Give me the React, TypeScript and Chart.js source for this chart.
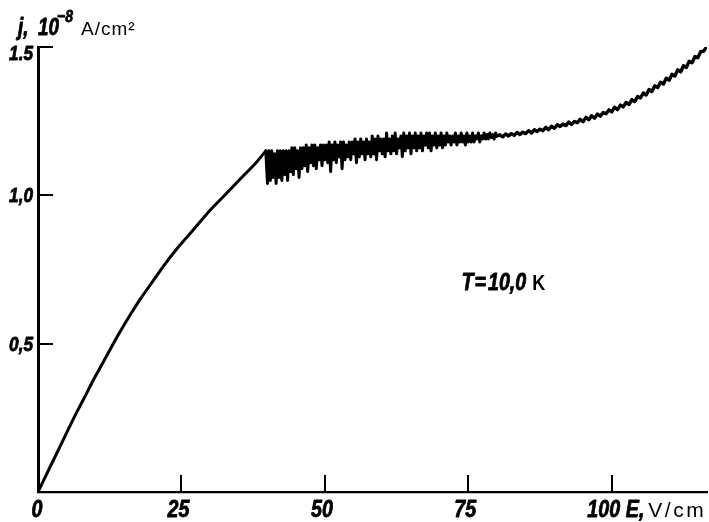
import React, { useEffect, useRef } from "react";
import { Chart, registerables } from "chart.js";

Chart.register(...registerables);

// ---------- data (E in V/cm, j in 1e-8 A/cm^2) ----------
const smoothE = [0, 2, 4, 6, 8, 10, 12, 14, 16, 18, 20, 22, 24, 26, 28, 30, 32, 34, 36, 38, 39.7];
const smoothJ = [0, 0.08, 0.16, 0.24, 0.315, 0.39, 0.46, 0.53, 0.595, 0.655, 0.71, 0.765, 0.815, 0.86, 0.905, 0.95, 0.99, 1.03, 1.07, 1.11, 1.15];

const noiseE = [
  40, 40.25, 40.5, 40.75, 41, 41.25, 41.5, 41.75,
  42, 42.25, 42.5, 42.75, 43, 43.25, 43.5, 43.75,
  44, 44.25, 44.5, 44.75, 45, 45.25, 45.5, 45.75,
  46, 46.25, 46.5, 46.75, 47, 47.25, 47.5, 47.75,
  48, 48.25, 48.5, 48.75, 49, 49.25, 49.5, 49.75,
  50, 50.25, 50.5, 50.75, 51, 51.25, 51.5, 51.75,
  52, 52.25, 52.5, 52.75, 53, 53.25, 53.5, 53.75,
  54, 54.25, 54.5, 54.75, 55, 55.25, 55.5, 55.75,
  56, 56.25, 56.5, 56.75, 57, 57.25, 57.5, 57.75,
  58, 58.25, 58.5, 58.75, 59, 59.25, 59.5, 59.75,
  60, 60.25, 60.5, 60.75, 61, 61.25, 61.5, 61.75,
  62, 62.25, 62.5, 62.75, 63, 63.25, 63.5, 63.75,
  64, 64.25, 64.5, 64.75, 65, 65.25, 65.5, 65.75,
  66, 66.25, 66.5, 66.75, 67, 67.25, 67.5, 67.75,
  68, 68.25, 68.5, 68.75, 69, 69.25, 69.5, 69.75,
  70, 70.25, 70.5, 70.75, 71, 71.25, 71.5, 71.75,
  72, 72.25, 72.5, 72.75, 73, 73.25, 73.5, 73.75,
  74, 74.25, 74.5, 74.75, 75, 75.25, 75.5, 75.75,
  76, 76.25, 76.5, 76.75, 77, 77.25, 77.5, 77.75,
  78, 78.25, 78.5, 78.75, 79, 79.25, 79.5, 79.75,
  80,
];
const noiseJ = [
  1.04, 1.15, 1.05, 1.15, 1.06, 1.14, 1.04, 1.15,
  1.06, 1.15, 1.05, 1.15, 1.07, 1.15, 1.05, 1.15,
  1.08, 1.16, 1.07, 1.16, 1.09, 1.15, 1.06, 1.16,
  1.09, 1.16, 1.10, 1.17, 1.08, 1.16, 1.11, 1.17,
  1.10, 1.17, 1.09, 1.16, 1.12, 1.17, 1.10, 1.17,
  1.12, 1.17, 1.11, 1.18, 1.08, 1.17, 1.12, 1.18,
  1.11, 1.17, 1.13, 1.18, 1.09, 1.18, 1.12, 1.17,
  1.13, 1.18, 1.12, 1.18, 1.14, 1.19, 1.11, 1.18,
  1.13, 1.19, 1.14, 1.18, 1.12, 1.19, 1.14, 1.18,
  1.13, 1.20, 1.14, 1.19, 1.12, 1.20, 1.15, 1.19,
  1.14, 1.19, 1.13, 1.21, 1.15, 1.19, 1.14, 1.20,
  1.15, 1.21, 1.14, 1.19, 1.16, 1.20, 1.13, 1.21,
  1.15, 1.20, 1.16, 1.21, 1.14, 1.20, 1.16, 1.21,
  1.15, 1.20, 1.16, 1.21, 1.15, 1.20, 1.17, 1.21,
  1.16, 1.21, 1.15, 1.20, 1.17, 1.21, 1.16, 1.20,
  1.17, 1.21, 1.16, 1.20, 1.17, 1.21, 1.18, 1.20,
  1.17, 1.20, 1.18, 1.21, 1.17, 1.20, 1.18, 1.21,
  1.18, 1.20, 1.17, 1.21, 1.18, 1.20, 1.18, 1.21,
  1.18, 1.20, 1.19, 1.21, 1.18, 1.20, 1.19, 1.21,
  1.19, 1.205, 1.19, 1.21, 1.195, 1.205, 1.19, 1.21,
  1.20,
];

const tailE = [
  80.5, 81, 81.5, 82, 82.5, 83, 83.5, 84, 84.5, 85,
  85.5, 86, 86.5, 87, 87.5, 88, 88.5, 89, 89.5, 90,
  90.5, 91, 91.5, 92, 92.5, 93, 93.5, 94, 94.5, 95,
  95.5, 96, 96.5, 97, 97.5, 98, 98.5, 99, 99.5, 100,
  100.5, 101, 101.5, 102, 102.5, 103, 103.5, 104, 104.5, 105,
  105.5, 106, 106.5, 107, 107.5, 108, 108.5, 109, 109.5, 110,
  110.5, 111, 111.5, 112, 112.5, 113, 113.5, 114, 114.5, 115,
  115.5, 116, 116.5,
];
const tailJ = [
  1.204, 1.197, 1.207, 1.200, 1.208, 1.202, 1.212, 1.205, 1.213, 1.208,
  1.218, 1.210, 1.221, 1.215, 1.223, 1.218, 1.229, 1.221, 1.233, 1.226,
  1.238, 1.232, 1.240, 1.235, 1.247, 1.239, 1.249, 1.245, 1.256, 1.248,
  1.263, 1.255, 1.268, 1.260, 1.274, 1.267, 1.279, 1.275, 1.288, 1.281,
  1.297, 1.289, 1.304, 1.298, 1.313, 1.306, 1.323, 1.316, 1.333, 1.328,
  1.345, 1.338, 1.357, 1.350, 1.369, 1.363, 1.381, 1.375, 1.395, 1.388,
  1.408, 1.402, 1.423, 1.416, 1.437, 1.431, 1.452, 1.447, 1.468, 1.464,
  1.484, 1.486, 1.499,
];

const xTickValues = [0, 25, 50, 75, 100];
const xTickLabels = ["0", "25", "50", "75", "100"];
const yTickValues = [0.5, 1.0, 1.5];
const yTickLabels = ["0,5", "1,0", "1.5"];

const X_MIN = 0;
const X_MAX = 116.6;
const Y_MIN = 0;
const Y_MAX = 1.5;

const SANS = '"Liberation Sans", Arial, sans-serif';
const SQUEEZE = 0.82;

function condensedText(ctx: CanvasRenderingContext2D, text: string, x: number, y: number, align: "left" | "center" | "right", heavy = true) {
  const w = ctx.measureText(text).width * SQUEEZE;
  let left = x;
  if (align === "center") left = x - w / 2;
  if (align === "right") left = x - w;
  ctx.save();
  ctx.translate(left, y);
  ctx.scale(SQUEEZE, 1);
  ctx.textAlign = "left";
  ctx.fillText(text, 0, 0);
  if (heavy) {
    ctx.lineWidth = 0.8;
    ctx.strokeStyle = "#000";
    ctx.lineJoin = "round";
    ctx.strokeText(text, 0, 0);
  }
  ctx.restore();
  return w;
}

const tickMarks = {
  id: "tickMarks",
  afterDatasetsDraw(chart: any) {
    const { ctx, chartArea, scales } = chart;
    const x = scales.x;
    const y = scales.y;
    ctx.save();
    ctx.strokeStyle = "#000";
    ctx.lineWidth = 2;
    for (const v of xTickValues) {
      if (v === 0) continue;
      const px = Math.round(x.getPixelForValue(v));
      ctx.beginPath();
      ctx.moveTo(px, chartArea.bottom);
      ctx.lineTo(px, chartArea.bottom - 17);
      ctx.stroke();
    }
    for (const v of yTickValues) {
      const py = Math.round(y.getPixelForValue(v));
      ctx.beginPath();
      ctx.moveTo(chartArea.left, py);
      ctx.lineTo(chartArea.left + 15, py);
      ctx.stroke();
    }
    ctx.restore();
  },
};

const texts = {
  id: "texts",
  afterDraw(chart: any) {
    const { ctx, chartArea, scales } = chart;
    const x = scales.x;
    const y = scales.y;
    ctx.save();
    ctx.fillStyle = "#000";
    ctx.textBaseline = "alphabetic";

    // x tick labels
    ctx.font = `italic bold 24px ${SANS}`;
    xTickValues.forEach((v, i) => {
      const shift = v === 100 ? -8 : v === 0 ? -1 : -3;
      condensedText(ctx, xTickLabels[i], x.getPixelForValue(v) + shift, chartArea.bottom + 25, "center");
    });
    // y tick labels
    ctx.font = `italic bold 21px ${SANS}`;
    yTickValues.forEach((v, i) => {
      const py = y.getPixelForValue(v);
      const off = v === 1.5 ? 13 : 7;
      condensedText(ctx, yTickLabels[i], chartArea.left - 5, py + off, "right");
    });

    // y-axis title
    const L = chartArea.left;
    const base = 35;
    ctx.font = `italic bold 23px ${SANS}`;
    condensedText(ctx, "j,", L - 20, base, "left");
    condensedText(ctx, "10", L, base, "left");
    ctx.font = `italic bold 17px ${SANS}`;
    condensedText(ctx, "−8", L + 19, base - 13, "left");
    ctx.font = `19px ${SANS}`;
    (ctx as any).letterSpacing = "1px";
    ctx.textAlign = "left";
    ctx.fillText("A/cm²", L + 43, base);
    (ctx as any).letterSpacing = "0px";

    // x-axis title
    let ex = x.getPixelForValue(100) + 14;
    const xb = chartArea.bottom + 25;
    ctx.font = `italic bold 24px ${SANS}`;
    ex += condensedText(ctx, "E,", ex, xb, "left") + 4;
    ctx.font = `21px ${SANS}`;
    (ctx as any).letterSpacing = "2.5px";
    ctx.fillText("V/cm", ex, xb);
    (ctx as any).letterSpacing = "0px";

    // annotation
    let tx = x.getPixelForValue(73.8);
    const ty = y.getPixelForValue(0.68);
    ctx.font = `italic bold 24px ${SANS}`;
    tx += condensedText(ctx, "T", tx, ty, "left") + 1;
    tx += condensedText(ctx, "=", tx, ty, "left") + 2;
    tx += condensedText(ctx, "10,0", tx, ty, "left") + 6;
    ctx.font = `bold 22px ${SANS}`;
    condensedText(ctx, "K", tx, ty, "left", false);
    ctx.restore();
  },
};

export default function App() {
  const ref = useRef<HTMLCanvasElement | null>(null);

  useEffect(() => {
    if (!ref.current) return;
    const smoothPts = smoothE.map((e, i) => ({ x: e, y: smoothJ[i] }));
    const noisePts = [smoothPts[smoothPts.length - 1], ...noiseE.map((e, i) => ({ x: e, y: noiseJ[i] }))];
    const tailPts = [noisePts[noisePts.length - 1], ...tailE.map((e, i) => ({ x: e, y: tailJ[i] }))];

    const base = {
      borderColor: "#000",
      pointRadius: 0,
      borderJoinStyle: "round" as const,
      borderCapStyle: "round" as const,
      fill: false,
    };

    const chart = new Chart(ref.current, {
      type: "line",
      data: {
        datasets: [
          { ...base, data: smoothPts, borderWidth: 3, cubicInterpolationMode: "monotone" },
          { ...base, data: noisePts, borderWidth: 3, tension: 0 },
          { ...base, data: tailPts, borderWidth: 3.4, tension: 0 },
        ],
      },
      options: {
        animation: false,
        responsive: false,
        events: [],
        layout: { padding: { top: 47, right: 2, left: 0, bottom: 0 } },
        plugins: {
          legend: { display: false },
          tooltip: { enabled: false },
          title: { display: false },
        },
        scales: {
          x: {
            type: "linear",
            min: X_MIN,
            max: X_MAX,
            afterBuildTicks: (scale: any) => {
              scale.ticks = xTickValues.map((v) => ({ value: v }));
            },
            afterFit: (scale: any) => {
              scale.height = 30;
            },
            grid: { display: false, drawTicks: false },
            border: { display: true, color: "#000", width: 2.2 },
            ticks: { display: false },
          },
          y: {
            type: "linear",
            min: Y_MIN,
            max: Y_MAX,
            afterBuildTicks: (scale: any) => {
              scale.ticks = yTickValues.map((v) => ({ value: v }));
            },
            afterFit: (scale: any) => {
              scale.width = 38;
            },
            grid: { display: false, drawTicks: false },
            border: { display: true, color: "#000", width: 3 },
            ticks: { display: false },
          },
        },
      },
      plugins: [tickMarks, texts],
    });
    return () => chart.destroy();
  }, []);

  return (
    <div style={{ position: "absolute", left: 0, top: 0, width: 709, height: 522, background: "#fff" }}>
      <canvas ref={ref} width={709} height={522} style={{ display: "block" }} />
    </div>
  );
}
